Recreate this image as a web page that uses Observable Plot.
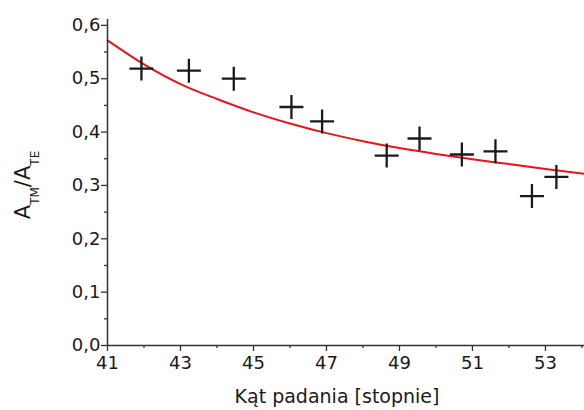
<!DOCTYPE html>
<html>
<head>
<meta charset="utf-8">
<script src="https://cdn.jsdelivr.net/npm/d3@7"></script>
<script src="https://cdn.jsdelivr.net/npm/@observablehq/plot@0.6"></script>
<style>
  html, body { margin: 0; padding: 0; background: #fff; }
  svg { display: block; }
</style>
</head>
<body>
<div id="chart"></div>
<script>
// Measured points (crosses)
const angles = [41.93, 43.23, 44.46, 46.04, 46.88, 48.65, 49.55, 50.71, 51.63, 52.63, 53.30];
const ratios = [0.519, 0.515, 0.500, 0.447, 0.420, 0.356, 0.388, 0.358, 0.364, 0.280, 0.316];

// Fitted curve (red)
const fitAngles = [41, 42, 43, 44, 45, 46, 47, 48, 49, 50, 51, 52, 53, 54.07];
const fitRatios = [0.572, 0.527, 0.490, 0.462, 0.437, 0.416, 0.398, 0.383, 0.370, 0.359, 0.349, 0.340, 0.331, 0.322];

// Axis ticks
const xTicks = [41, 43, 45, 47, 49, 51, 53];
const xMinorTicks = [42, 44, 46, 48, 50, 52, 54];
const yTicks = [0, 0.1, 0.2, 0.3, 0.4, 0.5, 0.6];
const yMinorTicks = [0.05, 0.15, 0.25, 0.35, 0.45, 0.55];
const xDomain = [41, 54.07];
const yDomain = [0, 0.611];

const xLabel = "Kąt padania [stopnie]";

const points = angles.map((a, i) => ({angle: a, ratio: ratios[i]}));
const fit = fitAngles.map((a, i) => ({angle: a, ratio: fitRatios[i]}));

const plusSymbol = {
  draw(ctx, size) {
    const r = Math.sqrt(size / Math.PI);
    ctx.moveTo(-r, 0); ctx.lineTo(r, 0);
    ctx.moveTo(0, -r); ctx.lineTo(0, r);
  }
};

const axisColor = "#333";
const fmt = d => d.toFixed(1).replace(".", ",");

const chart = Plot.plot({
  width: 584,
  height: 410,
  marginLeft: 107,
  marginRight: 0,
  marginTop: 19,
  marginBottom: 65,
  style: {fontFamily: "'DejaVu Sans', sans-serif", fontSize: "18px", color: "#222", background: "#fff"},
  x: {domain: xDomain},
  y: {domain: yDomain},
  marks: [
    Plot.line(fit, {x: "angle", y: "ratio", stroke: "#e3161e", strokeWidth: 2, curve: "monotone-x"}),
    Plot.dot(points, {x: "angle", y: "ratio", symbol: plusSymbol, r: 12, stroke: "#1a1a1a", strokeWidth: 2.3, fill: "none"}),
    Plot.ruleY([yDomain[0]], {stroke: axisColor, strokeWidth: 1.5}),
    Plot.ruleX([xDomain[0]], {stroke: axisColor, strokeWidth: 1.5}),
    Plot.axisX({ticks: xTicks, tickSize: 6, tickPadding: 5, tickFormat: d => String(d), label: null, stroke: axisColor, strokeWidth: 1.3, fill: "#1a1a1a"}),
    Plot.axisX({ticks: xMinorTicks, tickSize: 3, tickFormat: () => "", label: null, stroke: axisColor, strokeWidth: 1.3}),
    Plot.axisY({ticks: yTicks, tickSize: 6, tickPadding: 1, tickFormat: fmt, label: null, stroke: axisColor, strokeWidth: 1.3, fill: "#1a1a1a"}),
    Plot.axisY({ticks: yMinorTicks, tickSize: 3, tickFormat: () => "", label: null, stroke: axisColor, strokeWidth: 1.3})
  ]
});

document.getElementById("chart").appendChild(chart);

const svg = d3.select(chart);
// x-axis title
svg.append("text")
  .attr("x", 337).attr("y", 403)
  .attr("text-anchor", "middle")
  .attr("fill", "#1a1a1a")
  .style("font-family", "'DejaVu Sans', sans-serif")
  .style("font-size", "19px")
  .text(xLabel);

// y-axis title with subscripts
const yl = svg.append("text")
  .attr("transform", "translate(30,185) rotate(-90)")
  .attr("text-anchor", "middle")
  .attr("fill", "#1a1a1a")
  .style("font-family", "'DejaVu Sans', sans-serif")
  .style("font-size", "21px");
yl.append("tspan").text("A");
yl.append("tspan").attr("dy", 9).style("font-size", "12px").text("TM");
yl.append("tspan").attr("dy", -9).text("/A");
yl.append("tspan").attr("dy", 9).style("font-size", "12px").text("TE");
</script>
</body>
</html>
